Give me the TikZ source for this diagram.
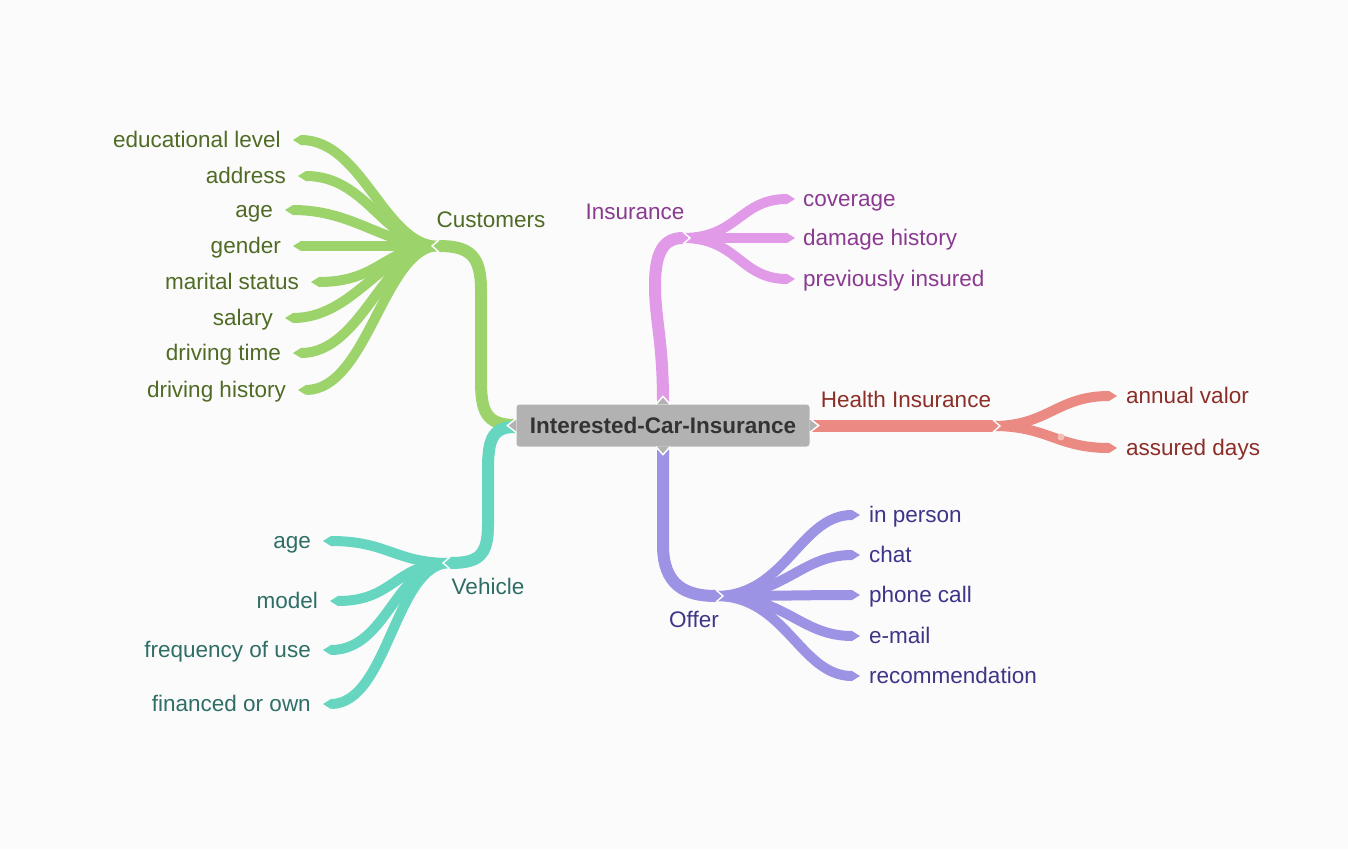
\documentclass[tikz,border=0pt]{standalone}
\usepackage{fontspec}
\setmainfont{Liberation Sans}
\usetikzlibrary{arrows.meta}
\definecolor{bgc}{HTML}{FBFBFB}
\definecolor{gBr}{HTML}{9DD36B}
\definecolor{gTx}{HTML}{4F6B25}
\definecolor{tBr}{HTML}{66D6C0}
\definecolor{tTx}{HTML}{2E6E66}
\definecolor{pBr}{HTML}{E09AE8}
\definecolor{pTx}{HTML}{8A3A90}
\definecolor{rBr}{HTML}{EA8A83}
\definecolor{rTx}{HTML}{8C2E28}
\definecolor{rDot}{HTML}{F3BDB8}
\definecolor{vBr}{HTML}{9D93E5}
\definecolor{vTx}{HTML}{3D3588}
\definecolor{cFill}{HTML}{B2B2B2}
\definecolor{cTx}{HTML}{333333}
\tikzset{
  mainbr/.style={line width=12pt, -{Triangle[length=7pt,width=12pt,line width=0pt]}},
  leafbr/.style={line width=10pt, -{Triangle[length=8pt,width=10pt,line width=0pt]}},
  notch/.style={draw=white, line width=1.4pt, line join=miter},
  lbl/.style={font=\fontsize{22.5}{27}\selectfont, inner sep=0pt, text height=16pt, text depth=4.7pt},
}
\newcommand\mynotchL[1]{\draw[notch] (#1) ++(7,-6) -- (#1) -- ++(7,6);}
\newcommand\mynotchR[1]{\draw[notch] (#1) ++(-7,-6) -- (#1) -- ++(-7,6);}
\begin{document}
\begin{tikzpicture}[x=1pt,y=-1pt]
\useasboundingbox (0,0) rectangle (1348,849);
\fill[bgc] (0,0) rectangle (1348,849);

% junction coordinates
\coordinate (cuJ) at (432,246);  \coordinate (cuS) at (439,246);
\coordinate (veJ) at (443,563);  \coordinate (veS) at (450,563);
\coordinate (inJ) at (690,238);  \coordinate (inS) at (683,238);
\coordinate (heJ) at (1000,426); \coordinate (heS) at (993,426);
\coordinate (ofJ) at (723,596);  \coordinate (ofS) at (716,596);

% ---------- Customers leaves
\foreach \t/\y/\r [count=\i] in {educational level/139/281, address/175/286, age/209/273, gender/245/281, marital status/281/299, salary/317/273, driving time/352/281, driving history/389/286}{
  \coordinate (cuL\i) at (\r+12,\y+1);
  \node[lbl, text=gTx, anchor=east] (cuT\i) at (\r,\y+2.5) {\t};
  \draw[leafbr, gBr] (cuS) .. controls +(-55,0) and +(70,0) .. (cuL\i);
}
% ---------- Vehicle leaves
\foreach \t/\y/\r [count=\i] in {age/540/311, model/600/318, frequency of use/649/311, financed or own/703/311}{
  \coordinate (veL\i) at (\r+12,\y+1);
  \node[lbl, text=tTx, anchor=east] (veT\i) at (\r,\y+2.5) {\t};
  \draw[leafbr, tBr] (veS) .. controls +(-55,0) and +(65,0) .. (veL\i);
}
% ---------- Insurance leaves
\foreach \t/\y [count=\i] in {coverage/198, damage history/237, previously insured/278}{
  \coordinate (inL\i) at (795,\y+1);
  \node[lbl, text=pTx, anchor=west] (inT\i) at (803,\y+2.5) {\t};
  \draw[leafbr, pBr] (inS) .. controls +(55,0) and +(-55,0) .. (inL\i);
}
% ---------- Health leaves
\foreach \t/\y [count=\i] in {annual valor/395, assured days/447}{
  \coordinate (heL\i) at (1117,\y+1);
  \node[lbl, text=rTx, anchor=west] (heT\i) at (1126,\y+2.5) {\t};
  \draw[leafbr, rBr] (heS) .. controls +(55,0) and +(-60,0) .. (heL\i);
}
\fill[rDot] (1061,437) circle (3.5);
% ---------- Offer leaves
\foreach \t/\y [count=\i] in {in person/514, chat/554, phone call/594, e-mail/635, recommendation/675}{
  \coordinate (ofL\i) at (860,\y+1);
  \node[lbl, text=vTx, anchor=west] (ofT\i) at (869,\y+2.5) {\t};
  \draw[leafbr, vBr] (ofS) .. controls +(70,0) and +(-60,0) .. (ofL\i);
}

% ---------- main branches
\coordinate (cW) at (515,425);
\coordinate (cW2) at (515,427);
\coordinate (cN) at (663,402);
\coordinate (cS) at (663,450);
\coordinate (cE) at (812,426);
\draw[mainbr, gBr] (cW) .. controls (485,425) and (481,410) .. (481,380) -- (481,290) .. controls (481,256) and (470,246) .. (cuJ);
\draw[mainbr, tBr] (cW2) .. controls (492,427) and (488,440) .. (488,470) -- (488,525) .. controls (488,556) and (478,563) .. (veJ);
\draw[mainbr, pBr] (cN) .. controls (663,340) and (655,320) .. (655,285) .. controls (655,250) and (665,238) .. (inJ);
\draw[mainbr, rBr] (cE) -- (heJ);
\draw[mainbr, vBr] (cS) -- (663,545) .. controls (663,585) and (685,596) .. (ofJ);

\mynotchL{cuJ}
\mynotchL{veJ}
\mynotchR{inJ}
\mynotchR{heJ}
\mynotchR{ofJ}

% ---------- branch labels
\node[lbl, text=gTx] (cuLab) at (491,222) {Customers};
\node[lbl, text=tTx] (veLab) at (488,589) {Vehicle};
\node[lbl, text=pTx] (inLab) at (635,214) {Insurance};
\node[lbl, text=rTx] (heLab) at (906,402) {Health Insurance};
\node[lbl, text=vTx] (ofLab) at (694,622) {Offer};

% ---------- center node
\node[fill=cFill, rounded corners=3pt, minimum width=293pt, minimum height=42pt, inner sep=0pt,
      font=\fontsize{22.5}{27}\selectfont\bfseries, text=cTx] (C) at (663,425.5) {Interested-Car-Insurance};
\fill[cFill] (C.west) ++(0,-7) -- ++(-9,7) -- ++(9,7) -- cycle;
\draw[notch] (C.west) ++(0,-7) -- ++(-9,7) -- ++(9,7);
\fill[cFill] (C.east) ++(0,-7) -- ++(9,7) -- ++(-9,7) -- cycle;
\draw[notch] (C.east) ++(0,-7) -- ++(9,7) -- ++(-9,7);
\fill[cFill] (C.north) ++(-7,0) -- ++(7,-8) -- ++(7,8) -- cycle;
\draw[notch] (C.north) ++(-7,0) -- ++(7,-8) -- ++(7,8);
\fill[cFill] (C.south) ++(-7,0) -- ++(7,8) -- ++(7,-8) -- cycle;
\draw[notch] (C.south) ++(-7,0) -- ++(7,8) -- ++(7,-8);
\end{tikzpicture}
\end{document}
